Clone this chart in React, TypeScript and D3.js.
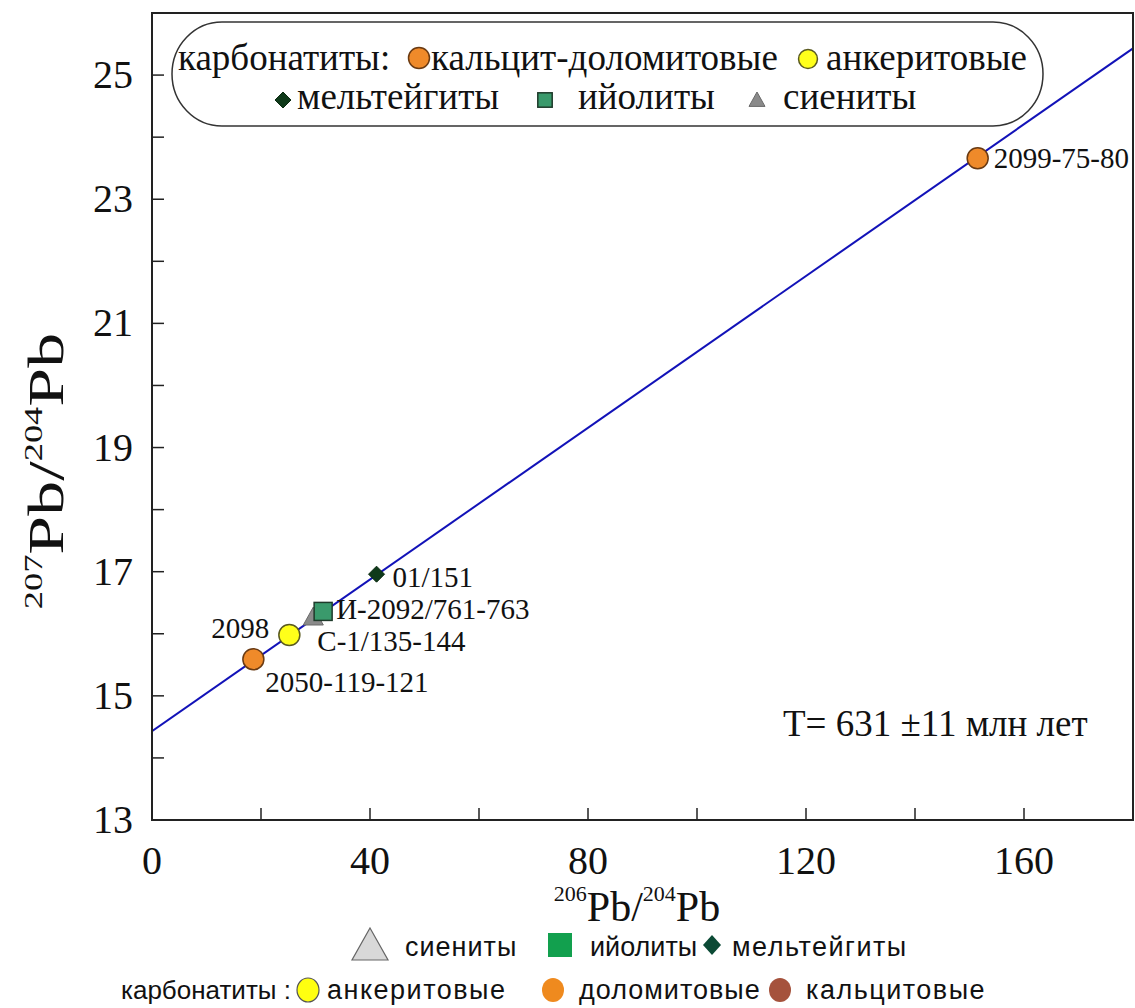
import React from 'react';
import * as d3 from 'd3';

// ---- data ----
const xMajorTicks = [0, 40, 80, 120, 160];
const xMinorTicks = [20, 60, 100, 140, 180];
const yMajorTicks = [13, 15, 17, 19, 21, 23, 25];
const yMinorTicks = [14, 16, 18, 20, 22, 24];

const sampleIds = ['s2050', 's2098', 'sC1', 'sI2092', 's01', 's2099'];
const sampleX = [18.6, 25.2, 29.6, 31.4, 41.2, 151.5];
const sampleY = [15.59, 15.98, 16.27, 16.36, 16.96, 23.66];
const sampleLabels = ['2050-119-121', '2098', 'С-1/135-144', 'И-2092/761-763', '01/151', '2099-75-80'];
const sampleKinds = ['dolomite', 'ankerite', 'syenite', 'ijolite', 'melteigite', 'dolomite'];

const isochronX = [0, 180];
const isochronY = [14.43, 25.43];
const ageText = 'T= 631 ±11 млн лет';

// ---- styles ----
const W = 1135, H = 1008;
const serif = '"Liberation Serif", "Times New Roman", serif';
const sans = '"Liberation Sans", Arial, sans-serif';
const kindStyle: Record<string, { fill: string; stroke: string }> = {
  dolomite: { fill: '#ef8a2a', stroke: '#6a3a12' },
  ankerite: { fill: '#ffff1a', stroke: '#5a5a20' },
  syenite: { fill: '#8a8a8a', stroke: '#6a6a6a' },
  ijolite: { fill: '#3a9a6c', stroke: '#1e3a2a' },
  melteigite: { fill: '#0f3a1a', stroke: '#0a2a10' },
};
const labelPos: Record<string, { dx: number; dy: number; anchor: string }> = {
  s2050: { dx: 12, dy: 33, anchor: 'start' },
  s2098: { dx: -20, dy: 3, anchor: 'end' },
  sC1: { dx: 4, dy: 34, anchor: 'start' },
  sI2092: { dx: 13, dy: 8, anchor: 'start' },
  s01: { dx: 16, dy: 13, anchor: 'start' },
  s2099: { dx: 16, dy: 10, anchor: 'start' },
};

function Marker({ kind, x, y, s = 1 }: { kind: string; x: number; y: number; s?: number }) {
  const st = kindStyle[kind];
  if (kind === 'dolomite' || kind === 'ankerite') {
    return <circle cx={x} cy={y} r={10.5 * s} fill={st.fill} stroke={st.stroke} strokeWidth={1.5} />;
  }
  if (kind === 'ijolite') {
    const h = 9 * s;
    return <rect x={x - h} y={y - h} width={2 * h} height={2 * h} fill={st.fill} stroke={st.stroke} strokeWidth={1.5} />;
  }
  if (kind === 'melteigite') {
    const h = 8 * s;
    return <path d={`M${x},${y - h}L${x + h},${y}L${x},${y + h}L${x - h},${y}Z`} fill={st.fill} stroke={st.stroke} strokeWidth={1} />;
  }
  const h = 10 * s;
  return <path d={`M${x},${y - h}L${x + h},${y + h * 0.8}L${x - h},${y + h * 0.8}Z`} fill={st.fill} stroke={st.stroke} strokeWidth={1} />;
}

export default function App() {
  const left = 152, right = 1133, top = 13, bottom = 820;
  const x = d3.scaleLinear().domain([0, 180]).range([left, right]);
  const y = d3.scaleLinear().domain([13, 26]).range([bottom, top]);
  const line = d3.line<number>().x((_, i) => x(isochronX[i])).y((d) => y(d));

  const axisColor = '#222';
  const tickLen = 12;
  const order = [2, 3, 4, 1, 0, 5];

  return (
    <div style={{ position: 'absolute', left: 0, top: 0, width: W, height: H, background: '#fff' }}>
      <svg width={W} height={H} viewBox={`0 0 ${W} ${H}`} style={{ display: 'block' }}>
        <rect x={0} y={0} width={W} height={H} fill="#fff" />
        <defs>
          <clipPath id="plotclip">
            <rect x={left} y={top} width={right - left + 4} height={bottom - top} />
          </clipPath>
        </defs>

        {/* isochron */}
        <path d={line(isochronY) || ''} fill="none" stroke="#1212b8" strokeWidth={2} clipPath="url(#plotclip)" />

        {/* frame */}
        <rect x={left} y={top} width={right - left} height={bottom - top} fill="none" stroke={axisColor} strokeWidth={2} />

        {/* x ticks */}
        {[...xMajorTicks, ...xMinorTicks].filter((t) => t > 0 && t < 180).map((t) => (
          <line key={'xt' + t} x1={x(t)} x2={x(t)} y1={bottom} y2={bottom - tickLen} stroke={axisColor} strokeWidth={1.5} />
        ))}
        {xMajorTicks.map((t) => (
          <text key={'xl' + t} x={x(t)} y={874} textAnchor="middle" fontFamily={serif} fontSize={40} fill="#111">{t}</text>
        ))}

        {/* y ticks */}
        {[...yMajorTicks, ...yMinorTicks].filter((t) => t > 13).map((t) => (
          <line key={'yt' + t} x1={left} x2={left + tickLen} y1={y(t)} y2={y(t)} stroke={axisColor} strokeWidth={1.5} />
        ))}
        {yMajorTicks.map((t) => (
          <text key={'yl' + t} x={133} y={y(t) + 13} textAnchor="end" fontFamily={serif} fontSize={40} fill="#111">{t}</text>
        ))}

        {/* axis titles */}
        <text x={637} y={921} textAnchor="middle" fontFamily={serif} fill="#111">
          <tspan fontSize={22} dy={-20}>206</tspan>
          <tspan fontSize={42} dy={20}>Pb/</tspan>
          <tspan fontSize={22} dy={-20}>204</tspan>
          <tspan fontSize={42} dy={20}>Pb</tspan>
        </text>
        <text transform="translate(63,471) rotate(-90) scale(1.4,1)" textAnchor="middle" fontFamily={serif} fill="#111">
          <tspan fontSize={26} dy={-21}>207</tspan>
          <tspan fontSize={50} dy={21}>Pb/</tspan>
          <tspan fontSize={26} dy={-21}>204</tspan>
          <tspan fontSize={50} dy={21}>Pb</tspan>
        </text>

        {/* samples */}
        {order.map((i) => (
          <Marker key={'m' + i} kind={sampleKinds[i]} x={x(sampleX[i])} y={y(sampleY[i])} />
        ))}
        {sampleIds.map((id, i) => {
          const p = labelPos[id];
          return (
            <text key={'lab' + id} x={x(sampleX[i]) + p.dx} y={y(sampleY[i]) + p.dy} textAnchor={p.anchor}
              fontFamily={serif} fontSize={29} fill="#111">{sampleLabels[i]}</text>
          );
        })}

        <text x={783} y={736} fontFamily={serif} fontSize={37} fill="#111">{ageText}</text>

        {/* top legend */}
        <rect x={172} y={22} width={871} height={104} rx={50} ry={52} fill="#fff" stroke="#333" strokeWidth={1.5} />
        <g fontFamily={serif} fontSize={37} fill="#111">
          <text x={178} y={70}>карбонатиты:</text>
          <Marker kind="dolomite" x={419} y={58} />
          <text x={431} y={70}>кальцит-доломитовые</text>
          <Marker kind="ankerite" x={808} y={59} s={0.9} />
          <text x={826} y={70}>анкеритовые</text>
          <Marker kind="melteigite" x={283} y={100} />
          <text x={297} y={109}>мельтейгиты</text>
          <Marker kind="ijolite" x={545} y={100} s={0.8} />
          <text x={578} y={109}>ийолиты</text>
          <Marker kind="syenite" x={757} y={100} s={0.8} />
          <text x={783} y={109}>сиениты</text>
        </g>

        {/* bottom legend */}
        <g fontFamily={sans} fontSize={27} fill="#111">
          <path d="M370,928L388,960L352,960Z" fill="#d8d8d8" stroke="#666" strokeWidth={1.2} />
          <text x={405} y={956} letterSpacing={1}>сиениты</text>
          <rect x={548} y={933} width={24} height={24} fill="#12a04e" />
          <text x={590} y={956}>ийолиты</text>
          <path d="M712,935L721,945L712,955L703,945Z" fill="#0b4a35" />
          <text x={732} y={956} letterSpacing={1.5}>мельтейгиты</text>

          <text x={121} y={999} fontSize={26}>карбонатиты :</text>
          <ellipse cx={308} cy={990} rx={11} ry={12} fill="#ffff10" stroke="#555" strokeWidth={1.2} />
          <text x={327} y={999} letterSpacing={1.5}>анкеритовые</text>
          <ellipse cx={553} cy={990} rx={11} ry={12} fill="#ef8a1e" />
          <text x={579} y={999} letterSpacing={1}>доломитовые</text>
          <ellipse cx={780} cy={990} rx={11} ry={12} fill="#a5523c" />
          <text x={806} y={999} letterSpacing={1.5}>кальцитовые</text>
        </g>
      </svg>
    </div>
  );
}
